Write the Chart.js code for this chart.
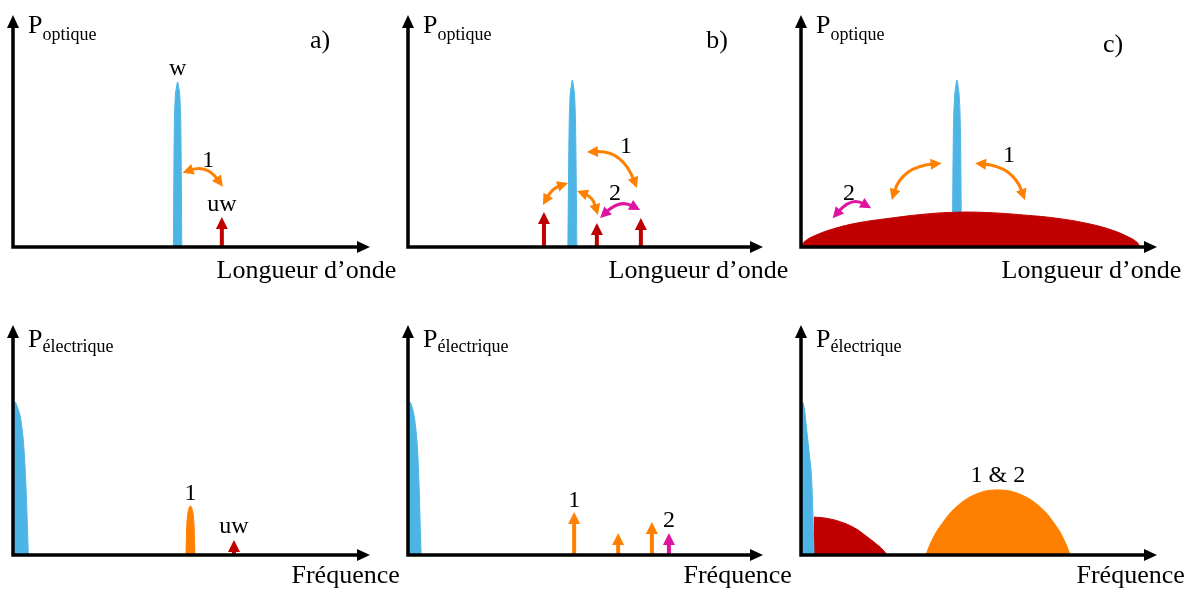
<!DOCTYPE html>
<html>
<head>
<meta charset="utf-8">
<script src="https://cdn.jsdelivr.net/npm/chart.js@4.4.1/dist/chart.umd.min.js"></script>
<style>
  html, body { margin: 0; padding: 0; background: #ffffff; }
  #wrap { position: relative; width: 1195px; height: 590px; overflow: hidden; }
  #wrap canvas { position: absolute; left: 0; top: 0; }
</style>
</head>
<body>
<div id="wrap"></div>
<script>
// ---------------- DATA (axis units: x 0..100 along the horizontal axis, y 0..100 along the vertical axis) ----------------

// a) optique
const aOptPeakX = [44.92, 45.16, 45.4, 45.82, 46.1, 46.38, 46.8, 47.04, 47.28];
const aOptPeakY = [0, 49, 63, 69, 71.1, 69, 63, 49, 0];
const aOptRedX = [58.5];
const aOptRedTop = [12.9];
const aOptOrangeArcs = [[47.5, 32.0, 54.3, 35.6, 58.8, 26.0]];
const aOptLabels = [['w', 46.1, 74.1], ['1', 54.7, 34.5], ['uw', 58.5, 15.7]];

// b) optique
const bOptPeakX = [45.03, 45.36, 45.6, 46.02, 46.3, 46.58, 47.0, 47.24, 47.57];
const bOptPeakY = [0, 49, 63, 69.5, 72.0, 69.5, 63, 49, 0];
const bOptRedX = [38.3, 53.2, 65.6];
const bOptRedTop = [15.1, 10.3, 12.5];
const bOptOrangeArcs = [
  [38.0, 18.1, 40.7, 25.4, 45.1, 27.6],
  [47.6, 24.1, 52.0, 21.6, 53.5, 13.8],
  [50.4, 40.9, 60.3, 41.8, 64.5, 25.4]
];
const bOptMagentaArcs = [[54.1, 12.5, 59.7, 20.6, 65.4, 15.9]];
const bOptLabels = [['1', 61.4, 40.7], ['2', 58.3, 20.3]];

// c) optique
const cOptPeakX = [42.5, 42.8, 43.08, 43.5, 43.8, 44.1, 44.52, 44.8, 45.1];
const cOptPeakY = [0, 49, 63, 69.5, 72.0, 69.5, 63, 49, 0];
const cOptNoiseX = [0, 1.2, 4.0, 9.0, 16.0, 25.0, 34.3, 43.7, 53.1, 62.5, 71.8, 81.2, 87.5, 92.0, 94.4, 95.2];
const cOptNoiseY = [0, 2.6, 5.0, 7.8, 10.4, 12.4, 14.1, 15.0, 14.8, 13.8, 12.4, 9.9, 7.2, 4.3, 2.0, 0];
const cOptOrangeArcs = [
  [25.5, 20.3, 28.4, 34.5, 39.5, 36.1],
  [48.9, 36.1, 59.6, 34.5, 62.9, 20.3]
];
const cOptMagentaArcs = [[8.9, 12.4, 14.2, 21.7, 19.7, 16.7]];
const cOptLabels = [['1', 58.4, 36.5], ['2', 13.5, 20.3]];

// a) électrique
const aElBlueX = [0, 0.56, 1.3, 2.2, 3.1, 3.6, 4.1, 4.3];
const aElBlueY = [66.5, 66.5, 64, 58.7, 45.6, 31, 9.5, 0];
const aElBeatX = [48.45, 48.55, 48.65, 48.85, 49.2, 49.7, 50.2, 50.55, 50.75, 50.85, 50.95];
const aElBeatY = [0, 6, 12, 16.5, 19.8, 21.3, 19.8, 16.5, 12, 6, 0];
const aElRedX = [61.9];
const aElRedTop = [6.5];
const aElLabels = [['1', 49.7, 23.9], ['uw', 61.9, 9.6]];

// b) électrique
const bElBlueX = [0, 0.5, 1.2, 1.9, 2.7, 3.1, 3.5, 3.7];
const bElBlueY = [66.5, 66.5, 64, 58.7, 45.6, 31, 9.5, 0];
const bElOrangeX = [46.8, 59.2, 68.7];
const bElOrangeTop = [18.7, 9.6, 14.3];
const bElMagentaX = [73.5];
const bElMagentaTop = [9.6];
const bElLabels = [['1', 46.8, 21.0], ['2', 73.5, 12.3]];

// c) électrique
const cElBlueX = [0, 0.5, 1.0, 1.6, 2.4, 3.0, 3.4, 3.65];
const cElBlueY = [66.5, 66.3, 63, 54.3, 43, 32.6, 15, 0];
const cElNoiseX = [3.65, 7.0, 11.0, 15.0, 18.5, 21.0, 22.8, 24.2];
const cElNoiseY = [16.5, 16.0, 14.5, 11.8, 8.0, 5.0, 2.6, 0];
const cElBeatX = [35.1, 36.5, 39.0, 43.7, 49.4, 55.3, 61.2, 67.1, 71.8, 74.2, 75.6];
const cElBeatY = [0, 5.5, 12.3, 21, 26.6, 28.3, 26.6, 21, 12.3, 5.5, 0];
const cElLabels = [['1 & 2', 55.3, 31.9]];

// texts
const panelLetters = ['a)', 'b)', 'c)'];
const yTitleMain = 'P';
const yTitleOpt = 'optique';
const yTitleEl = 'électrique';
const xTitleOpt = 'Longueur d’onde';
const xTitleEl = 'Fréquence';

// ---------------- STYLE / LAYOUT ----------------
const W = 1195, H = 590;
const BLUE = '#4db4e6', RED = '#c00000', ORANGE = '#ff8000', MAGENTA = '#de139f';
const SERIF = '"Liberation Serif", "Times New Roman", serif';

const GEOM = {
  aOpt: { ox: 13,  oy: 247, xTip: 370,  yTip: 15,  titleX: 216.5, letter: [320, 48] },
  bOpt: { ox: 408, oy: 247, xTip: 763,  yTip: 15,  titleX: 608.5, letter: [717, 48] },
  cOpt: { ox: 801, oy: 247, xTip: 1157, yTip: 15,  titleX: 1001.5, letter: [1113, 52] },
  aEl:  { ox: 13,  oy: 555, xTip: 370,  yTip: 325, titleX: 291.5 },
  bEl:  { ox: 408, oy: 555, xTip: 763,  yTip: 325, titleX: 683.5 },
  cEl:  { ox: 801, oy: 555, xTip: 1157, yTip: 325, titleX: 1076.5 }
};

function pts(xs, ys) { return xs.map((x, i) => ({ x: x, y: ys[i] })); }
function shape(xs, ys, color, order, smooth) {
  const ds = {
    data: pts(xs, ys), backgroundColor: color, borderColor: color, borderWidth: 1,
    pointRadius: 0, fill: 'origin', order: order || 0
  };
  if (smooth) { ds.tension = 0.4; ds.cubicInterpolationMode = 'default'; }
  else { ds.cubicInterpolationMode = 'monotone'; }
  return ds;
}

function drawVArrow(ctx, x, yBase, yTop, color) {
  const hl = 12, hw = 6, sw = 4;
  ctx.save();
  ctx.fillStyle = color;
  const shaftTop = yTop + hl;
  if (yBase > shaftTop) ctx.fillRect(x - sw / 2, shaftTop - 0.5, sw, yBase - shaftTop + 0.5);
  ctx.beginPath();
  ctx.moveTo(x, yTop);
  ctx.lineTo(x - hw, yTop + hl);
  ctx.lineTo(x + hw, yTop + hl);
  ctx.closePath();
  ctx.fill();
  ctx.restore();
}

function head(ctx, tx, ty, dx, dy, hl, hw) {
  const L = Math.hypot(dx, dy) || 1; dx /= L; dy /= L;
  const bx = tx - dx * hl, by = ty - dy * hl;
  ctx.beginPath();
  ctx.moveTo(tx, ty);
  ctx.lineTo(bx - dy * hw, by + dx * hw);
  ctx.lineTo(bx + dy * hw, by - dx * hw);
  ctx.closePath();
  ctx.fill();
  return [tx - dx * hl * 0.8, ty - dy * hl * 0.8];
}

function drawArc(ctx, x0, y0, cx, cy, x2, y2, color) {
  const hl = 11, hw = 5.5;
  ctx.save();
  ctx.fillStyle = color; ctx.strokeStyle = color;
  ctx.lineWidth = 3; ctx.lineCap = 'butt';
  const s = head(ctx, x0, y0, x0 - cx, y0 - cy, hl, hw);
  const e = head(ctx, x2, y2, x2 - cx, y2 - cy, hl, hw);
  ctx.beginPath();
  ctx.moveTo(s[0], s[1]);
  ctx.quadraticCurveTo(cx, cy, e[0], e[1]);
  ctx.stroke();
  ctx.restore();
}

function drawAxes(ctx, ca) {
  const lw = 3.5, hl = 13, hw = 6;
  ctx.save();
  ctx.strokeStyle = '#000'; ctx.fillStyle = '#000'; ctx.lineWidth = lw;
  ctx.beginPath();
  ctx.moveTo(ca.left, ca.top + hl - 1);
  ctx.lineTo(ca.left, ca.bottom);
  ctx.lineTo(ca.right - hl + 1, ca.bottom);
  ctx.lineJoin = 'miter'; ctx.lineCap = 'square';
  ctx.stroke();
  ctx.beginPath();
  ctx.moveTo(ca.left, ca.top);
  ctx.lineTo(ca.left - hw, ca.top + hl);
  ctx.lineTo(ca.left + hw, ca.top + hl);
  ctx.closePath(); ctx.fill();
  ctx.beginPath();
  ctx.moveTo(ca.right, ca.bottom);
  ctx.lineTo(ca.right - hl, ca.bottom - hw);
  ctx.lineTo(ca.right - hl, ca.bottom + hw);
  ctx.closePath(); ctx.fill();
  ctx.restore();
}

const diagramPlugin = {
  id: 'diagram',
  afterDatasetsDraw(chart, args, opts) {
    const ctx = chart.ctx, ca = chart.chartArea;
    const sx = chart.scales.x, sy = chart.scales.y;
    const X = v => sx.getPixelForValue(v), Y = v => sy.getPixelForValue(v);
    (opts.vArrows || []).forEach(g => g.xs.forEach((xv, i) => drawVArrow(ctx, X(xv), Y(0), Y(g.tops[i]), g.color)));
    (opts.arcs || []).forEach(g => g.list.forEach(a => drawArc(ctx, X(a[0]), Y(a[1]), X(a[2]), Y(a[3]), X(a[4]), Y(a[5]), g.color)));
    drawAxes(ctx, ca);
    ctx.save();
    ctx.fillStyle = '#000';
    ctx.textAlign = 'center'; ctx.textBaseline = 'alphabetic';
    ctx.font = '24px ' + SERIF;
    (opts.labels || []).forEach(l => ctx.fillText(l[0], X(l[1]), Y(l[2])));
    const g = opts.geom;
    const top = g.oy < 300;
    ctx.textAlign = 'left';
    ctx.font = '26px ' + SERIF;
    const px = g.ox + 15, pb = top ? 32.5 : 347;
    ctx.fillText(yTitleMain, px, pb);
    const pw = ctx.measureText(yTitleMain).width;
    ctx.font = '18px ' + SERIF;
    ctx.fillText(top ? yTitleOpt : yTitleEl, px + pw, pb + (top ? 7 : 5));
    ctx.font = '26px ' + SERIF;
    ctx.fillText(top ? xTitleOpt : xTitleEl, g.titleX, top ? 278 : 583);
    if (g.letter) {
      ctx.textAlign = 'center';
      ctx.fillText(opts.letter, g.letter[0], g.letter[1]);
    }
    ctx.restore();
  }
};

function makeChart(g, datasets, extras) {
  const cv = document.createElement('canvas');
  cv.width = W; cv.height = H;
  cv.style.width = W + 'px'; cv.style.height = H + 'px';
  document.getElementById('wrap').appendChild(cv);
  extras.geom = g;
  return new Chart(cv.getContext('2d'), {
    type: 'line',
    data: { datasets: datasets },
    options: {
      responsive: false, animation: false, events: [],
      layout: { padding: { left: g.ox, top: g.yTip, right: W - g.xTip, bottom: H - g.oy } },
      scales: {
        x: { type: 'linear', min: 0, max: 100, display: false },
        y: { type: 'linear', min: 0, max: 100, display: false }
      },
      plugins: { legend: { display: false }, tooltip: { enabled: false }, diagram: extras }
    },
    plugins: [diagramPlugin]
  });
}

function build() {
  makeChart(GEOM.aOpt, [shape(aOptPeakX, aOptPeakY, BLUE)], {
    letter: panelLetters[0],
    vArrows: [{ xs: aOptRedX, tops: aOptRedTop, color: RED }],
    arcs: [{ list: aOptOrangeArcs, color: ORANGE }],
    labels: aOptLabels
  });
  makeChart(GEOM.bOpt, [shape(bOptPeakX, bOptPeakY, BLUE)], {
    letter: panelLetters[1],
    vArrows: [{ xs: bOptRedX, tops: bOptRedTop, color: RED }],
    arcs: [{ list: bOptOrangeArcs, color: ORANGE }, { list: bOptMagentaArcs, color: MAGENTA }],
    labels: bOptLabels
  });
  makeChart(GEOM.cOpt, [shape(cOptNoiseX, cOptNoiseY, RED, 0, true), shape(cOptPeakX, cOptPeakY, BLUE, 1)], {
    letter: panelLetters[2],
    arcs: [{ list: cOptOrangeArcs, color: ORANGE }, { list: cOptMagentaArcs, color: MAGENTA }],
    labels: cOptLabels
  });
  makeChart(GEOM.aEl, [shape(aElBlueX, aElBlueY, BLUE), shape(aElBeatX, aElBeatY, ORANGE)], {
    vArrows: [{ xs: aElRedX, tops: aElRedTop, color: RED }],
    labels: aElLabels
  });
  makeChart(GEOM.bEl, [shape(bElBlueX, bElBlueY, BLUE)], {
    vArrows: [{ xs: bElOrangeX, tops: bElOrangeTop, color: ORANGE }, { xs: bElMagentaX, tops: bElMagentaTop, color: MAGENTA }],
    labels: bElLabels
  });
  makeChart(GEOM.cEl, [shape(cElBlueX, cElBlueY, BLUE, 0), shape(cElNoiseX, cElNoiseY, RED, 1, true), shape(cElBeatX, cElBeatY, ORANGE, 2, true)], {
    labels: cElLabels
  });
}

if (document.fonts && document.fonts.load) {
  Promise.all([
    document.fonts.load('26px "Liberation Serif"'),
    document.fonts.load('18px "Liberation Serif"')
  ]).then(build, build);
} else {
  build();
}
</script>
</body>
</html>
